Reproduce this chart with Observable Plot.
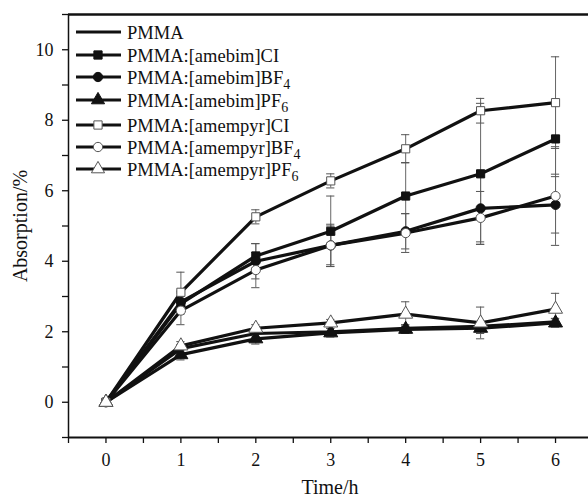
<!DOCTYPE html>
<html>
<head>
<meta charset="utf-8">
<script src="https://cdn.jsdelivr.net/npm/d3@7"></script>
<script src="https://cdn.jsdelivr.net/npm/@observablehq/plot@0.6"></script>
<style>
  html, body { margin: 0; padding: 0; background: #fff; }
  #chart svg { display: block; }
</style>
</head>
<body>
<div id="chart"></div>
<script>
const times = [0, 1, 2, 3, 4, 5, 6];

const seriesNames = [
  "PMMA",
  "PMMA:[amebim]CI",
  "PMMA:[amebim]BF4",
  "PMMA:[amebim]PF6",
  "PMMA:[amempyr]CI",
  "PMMA:[amempyr]BF4",
  "PMMA:[amempyr]PF6"
];

const pmma       = [0, 1.52, 1.95, 2.00, 2.10, 2.15, 2.28];
const amebimCl   = [0, 2.80, 4.15, 4.85, 5.85, 6.48, 7.47];
const amebimBF4  = [0, 2.85, 4.00, 4.45, 4.85, 5.50, 5.60];
const amebimPF6  = [0, 1.35, 1.80, 1.97, 2.07, 2.10, 2.25];
const amempyrCl  = [0, 3.12, 5.26, 6.28, 7.19, 8.27, 8.50];
const amempyrBF4 = [0, 2.60, 3.75, 4.45, 4.80, 5.23, 5.85];
const amempyrPF6 = [0, 1.60, 2.10, 2.25, 2.50, 2.25, 2.64];

const errPmma       = [0, 0.12, 0.10, 0.10, 0.10, 0.10, 0.10];
const errAmebimCl   = [0, 0.30, 0.35, 1.00, 0.95, 2.00, 1.00];
const errAmebimBF4  = [0, 0.30, 0.50, 0.55, 0.50, 0.95, 0.80];
const errAmebimPF6  = [0, 0.15, 0.15, 0.12, 0.12, 0.15, 0.12];
const errAmempyrCl  = [0, 0.57, 0.20, 0.20, 0.40, 0.35, 1.30];
const errAmempyrBF4 = [0, 0.40, 0.50, 0.60, 0.55, 0.75, 1.40];
const errAmempyrPF6 = [0, 0.12, 0.10, 0.10, 0.35, 0.45, 0.45];

const symbols = [null, "square", "circle", "triangle", "square", "circle", "triangle"];
const filled  = [true, true, true, true, false, false, false];

const values = [pmma, amebimCl, amebimBF4, amebimPF6, amempyrCl, amempyrBF4, amempyrPF6];
const errors = [errPmma, errAmebimCl, errAmebimBF4, errAmebimPF6, errAmempyrCl, errAmempyrBF4, errAmempyrPF6];

const yMajor = [0, 2, 4, 6, 8, 10];
const yMinor = [-1, 1, 3, 5, 7, 9, 11];
const xMajor = [0, 1, 2, 3, 4, 5, 6];
const xMinor = [-0.5, 0.5, 1.5, 2.5, 3.5, 4.5, 5.5];

const rows = [];
seriesNames.forEach((name, i) => {
  times.forEach((t, j) => {
    rows.push({series: name, idx: i, t, v: values[i][j], e: errors[i][j],
               capL: t - 0.055, capR: t + 0.055});
  });
});
const errRows = rows.filter(d => d.e > 0);

const FONT = "'Liberation Serif', 'DejaVu Serif', serif";

const markMarks = [];
for (let i = 0; i < seriesNames.length; i++) {
  if (!symbols[i]) continue;
  const data = rows.filter(d => d.idx === i);
  markMarks.push(Plot.dot(data, {
    x: "t", y: "v", symbol: () => symbols[i], r: symbols[i] === "triangle" ? 5.2 : 4.6,
    fill: filled[i] ? "#111" : "#fff",
    stroke: filled[i] ? "#111" : "#555",
    strokeWidth: 1
  }));
}

const fmt = d3.format("d");

const chart = Plot.plot({
  width: 588,
  height: 497,
  marginLeft: 68,
  marginRight: 0,
  marginTop: 14,
  marginBottom: 60,
  x: {domain: [-0.5, 6.44]},
  y: {domain: [-1, 11]},
  style: {fontFamily: FONT, fontSize: "18px", background: "#fff", color: "#111"},
  marks: [
    Plot.axisX({ticks: xMajor, tickSize: 6, tickPadding: 10, tickFormat: fmt, label: null, fontSize: 18, strokeWidth: 1.3}),
    Plot.axisX({ticks: xMinor, tickSize: 6, tickFormat: () => "", label: null, strokeWidth: 1.3}),
    Plot.axisY({ticks: yMajor, tickSize: 6, tickPadding: 9, tickFormat: fmt, label: null, fontSize: 18, strokeWidth: 1.3}),
    Plot.axisY({ticks: yMinor, tickSize: 6, tickFormat: () => "", label: null, strokeWidth: 1.3}),
    Plot.ruleY([11], {stroke: "#111", strokeWidth: 2.5}),
    Plot.ruleY([-1], {stroke: "#111", strokeWidth: 1.8}),
    Plot.ruleX([-0.5], {stroke: "#111", strokeWidth: 1.5}),
    // error bars
    Plot.ruleX(errRows, {x: "t", y1: d => d.v - d.e, y2: d => d.v + d.e, stroke: "#666", strokeWidth: 1}),
    Plot.ruleY(errRows, {y: d => d.v + d.e, x1: "capL", x2: "capR", stroke: "#555", strokeWidth: 1}),
    Plot.ruleY(errRows, {y: d => d.v - d.e, x1: "capL", x2: "capR", stroke: "#555", strokeWidth: 1}),
    // lines
    Plot.line(rows, {x: "t", y: "v", z: "series", stroke: "#111", strokeWidth: 3.2}),
    ...markMarks
  ]
});

document.getElementById("chart").appendChild(chart);

// axis titles and legend
const svg = d3.select(chart);
svg.append("text")
  .attr("x", 330).attr("y", 494)
  .attr("text-anchor", "middle")
  .attr("font-family", FONT).attr("font-size", 20).attr("fill", "#111")
  .text("Time/h");
svg.append("text")
  .attr("transform", "translate(27,226) rotate(-90)")
  .attr("text-anchor", "middle")
  .attr("font-family", FONT).attr("font-size", 20).attr("fill", "#111")
  .text("Absorption/%");

const legendY = [32, 55, 77, 100, 125, 147, 169];
const lg = svg.append("g");
const symGen = {square: d3.symbolSquare, circle: d3.symbolCircle, triangle: d3.symbolTriangle};
seriesNames.forEach((name, i) => {
  const y = legendY[i];
  lg.append("line").attr("x1", 76).attr("x2", 121).attr("y1", y).attr("y2", y)
    .attr("stroke", "#111").attr("stroke-width", 3.2);
  if (symbols[i]) {
    const size = symbols[i] === "triangle" ? 75 : 68;
    lg.append("path")
      .attr("transform", `translate(98,${y})`)
      .attr("d", d3.symbol(symGen[symbols[i]], size)())
      .attr("fill", filled[i] ? "#111" : "#fff")
      .attr("stroke", filled[i] ? "#111" : "#555");
  }
  const m = name.match(/^(.*?)(\d)$/);
  const t = lg.append("text").attr("x", 127).attr("y", y + 6.5)
    .attr("text-anchor", "start")
    .attr("font-family", FONT).attr("font-size", 18.5).attr("fill", "#111");
  if (m) {
    t.append("tspan").text(m[1]);
    t.append("tspan").attr("dy", 5).attr("font-size", 14).text(m[2]);
  } else {
    t.text(name);
  }
});
</script>
</body>
</html>
